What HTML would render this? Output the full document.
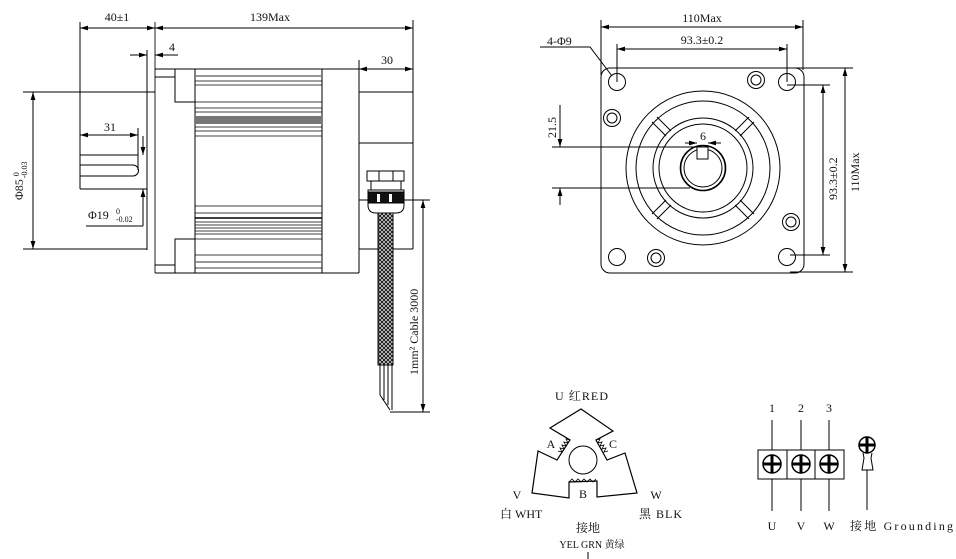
<!DOCTYPE html>
<html><head><meta charset="utf-8"><style>
html,body{margin:0;padding:0;background:#fff}
svg{display:block}
text{font-family:"Liberation Serif","Noto Serif CJK SC",serif;fill:#111}
</style></head><body>
<svg width="956" height="559" viewBox="0 0 956 559" xmlns="http://www.w3.org/2000/svg">
<defs>
<marker id="a" viewBox="0 0 10 6" refX="10" refY="3" markerWidth="8" markerHeight="5" orient="auto-start-reverse"><path d="M0,0 L10,3 L0,6 z" fill="#000"/></marker>
<pattern id="br" width="4" height="4" patternUnits="userSpaceOnUse"><rect width="4" height="4" fill="#fff"/><path d="M0,0 L4,4 M4,0 L0,4" stroke="#222" stroke-width="1.2"/></pattern>
</defs>
<g stroke="#000" stroke-width="1" fill="none">
<line x1="80" y1="22" x2="80" y2="189"/>
<line x1="155" y1="22" x2="155" y2="273" stroke="#555" stroke-width="1.3"/>
<line x1="413" y1="20" x2="413" y2="249"/>
<line x1="80" y1="28" x2="155" y2="28" marker-start="url(#a)" marker-end="url(#a)"/>
<line x1="155" y1="28" x2="413" y2="28" marker-start="url(#a)" marker-end="url(#a)"/>
<line x1="130" y1="55" x2="147" y2="55" marker-end="url(#a)"/>
<line x1="155" y1="55" x2="178" y2="55" marker-start="url(#a)"/>
<line x1="147" y1="50" x2="147" y2="250"/>
<line x1="359" y1="60" x2="359" y2="273"/>
<line x1="359" y1="69" x2="413" y2="69" marker-start="url(#a)" marker-end="url(#a)"/>
<line x1="23" y1="92" x2="155" y2="92"/>
<line x1="23" y1="249" x2="147" y2="249"/>
<line x1="33" y1="92" x2="33" y2="249" marker-start="url(#a)" marker-end="url(#a)"/>
<line x1="80" y1="135" x2="138" y2="135" marker-start="url(#a)" marker-end="url(#a)"/>
<line x1="138" y1="128" x2="138" y2="170"/>
<line x1="80" y1="155" x2="138" y2="155"/>
<path d="M80,165 H133 A5.5,5.5 0 0 1 133,176 H80"/>
<line x1="80" y1="189" x2="147" y2="189"/>
<line x1="143" y1="136" x2="143" y2="155" marker-end="url(#a)"/>
<line x1="143" y1="189" x2="143" y2="226" marker-start="url(#a)"/>
<line x1="86" y1="226" x2="143" y2="226"/>
<line x1="155" y1="69" x2="413" y2="69"/>
<line x1="155" y1="273" x2="359" y2="273"/>
<line x1="155" y1="77" x2="175" y2="77"/>
<line x1="155" y1="265" x2="175" y2="265"/>
<rect x="175" y="69" width="20" height="33"/>
<rect x="175" y="239" width="20" height="34"/>
<line x1="195" y1="69" x2="195" y2="273"/>
<line x1="322" y1="69" x2="322" y2="273"/>
<g stroke-width="0.8">
<line x1="195" y1="76" x2="322" y2="76" stroke="#777" stroke-width="1.5"/>
<line x1="195" y1="81" x2="322" y2="81"/><line x1="195" y1="85" x2="322" y2="85"/>
<line x1="195" y1="102" x2="322" y2="102"/><line x1="195" y1="108" x2="322" y2="108"/>
<line x1="195" y1="112" x2="322" y2="112"/>
<rect x="195" y="116" width="127" height="8" fill="#777" stroke="none"/>
<line x1="195" y1="127" x2="322" y2="127"/><line x1="195" y1="131" x2="322" y2="131"/><line x1="195" y1="136" x2="322" y2="136"/>
<line x1="195" y1="206" x2="322" y2="206"/><line x1="195" y1="213" x2="322" y2="213"/>
<line x1="195" y1="218" x2="322" y2="218" stroke-width="1.4"/><line x1="195" y1="222" x2="322" y2="222"/>
<line x1="195" y1="225" x2="322" y2="225"/><line x1="195" y1="228" x2="322" y2="228"/>
<line x1="195" y1="231" x2="322" y2="231"/><line x1="195" y1="234" x2="322" y2="234"/>
<line x1="195" y1="239" x2="322" y2="239"/><line x1="195" y1="255" x2="322" y2="255"/>
<line x1="195" y1="262" x2="322" y2="262" stroke="#777" stroke-width="1.5"/><line x1="195" y1="268" x2="322" y2="268"/>
</g>
<line x1="359" y1="92" x2="413" y2="92"/>
<line x1="359" y1="143" x2="413" y2="143"/>
<line x1="359" y1="249" x2="413" y2="249"/>
<rect x="367" y="171" width="37" height="10"/>
<line x1="379" y1="171" x2="379" y2="181"/><line x1="393" y1="171" x2="393" y2="181"/>
<rect x="371" y="181" width="30" height="9"/>
<path d="M368,190 H404 V205 Q404,213 396,213 H376 Q368,213 368,205 Z" fill="#fff"/>
<rect x="368" y="192" width="36" height="11" fill="#111"/>
<rect x="377" y="194" width="3" height="8" fill="#fff" stroke="none"/><rect x="389" y="194" width="3" height="8" fill="#fff" stroke="none"/>
<rect x="378" y="213" width="15" height="152" fill="url(#br)"/>
<path d="M380,365 V395 M384,365 V400 M388,365 V405 M392,365 V395 L392,410 M380,395 L390,410"/>
<line x1="359" y1="200" x2="368" y2="200"/>
<line x1="404" y1="200" x2="430" y2="200"/>
<line x1="390" y1="412" x2="430" y2="412"/>
<line x1="423" y1="200" x2="423" y2="412" marker-start="url(#a)" marker-end="url(#a)"/>
<line x1="601" y1="20" x2="601" y2="75"/>
<line x1="803" y1="20" x2="803" y2="70"/>
<line x1="601" y1="27" x2="803" y2="27" marker-start="url(#a)" marker-end="url(#a)"/>
<line x1="617" y1="44" x2="617" y2="82"/><line x1="787" y1="44" x2="787" y2="82"/>
<line x1="617" y1="49" x2="787" y2="49" marker-start="url(#a)" marker-end="url(#a)"/>
<path d="M540,47 H590 L612,76"/>
<rect x="601" y="68" width="203" height="205" rx="9"/>
<g>
<circle cx="617" cy="82" r="8.5"/><circle cx="787" cy="82" r="8.5"/>
<circle cx="617" cy="257" r="8.5"/><circle cx="787" cy="257" r="8.5"/>
</g>
<g>
<circle cx="756" cy="80" r="8.5"/><circle cx="756" cy="80" r="5"/>
<circle cx="612" cy="118" r="8.5"/><circle cx="612" cy="118" r="5"/>
<circle cx="791" cy="222" r="8.5"/><circle cx="791" cy="222" r="5"/>
<circle cx="656" cy="258" r="8.5"/><circle cx="656" cy="258" r="5"/>
</g>
<circle cx="703" cy="168" r="77"/>
<circle cx="703" cy="168" r="67"/>
<circle cx="703" cy="168" r="50"/>
<circle cx="703" cy="168" r="44"/>
<g transform="translate(703,168)">
<g id="sp"><line x1="37" y1="-32" x2="51" y2="-46"/><line x1="32" y1="-37" x2="46" y2="-51"/></g>
<use href="#sp" transform="rotate(90)"/><use href="#sp" transform="rotate(180)"/><use href="#sp" transform="rotate(270)"/>
</g>
<circle cx="703" cy="168" r="22.5" stroke-width="1.6"/>
<circle cx="703" cy="168" r="19"/>
<rect x="697" y="147" width="11" height="12" fill="#fff"/>
<line x1="685" y1="143" x2="697" y2="143" marker-end="url(#a)"/>
<line x1="708" y1="143" x2="721" y2="143" marker-start="url(#a)"/>
<line x1="552" y1="147" x2="700" y2="147"/>
<line x1="552" y1="188" x2="690" y2="188"/>
<line x1="560" y1="105" x2="560" y2="147" marker-end="url(#a)"/>
<line x1="560" y1="188" x2="560" y2="205" marker-start="url(#a)"/>
<line x1="787" y1="85" x2="830" y2="85"/><line x1="790" y1="255" x2="830" y2="255"/>
<line x1="823" y1="85" x2="823" y2="255" marker-start="url(#a)" marker-end="url(#a)"/>
<line x1="775" y1="68" x2="853" y2="68"/><line x1="790" y1="272" x2="853" y2="272"/>
<line x1="845" y1="68" x2="845" y2="272" marker-start="url(#a)" marker-end="url(#a)"/>
<path d="M581,409 L613,431 L596,440 L607,460 L625,453 L637,493 L597,497 L597,481 L569,482 L569,498 L532,493 L538,451 L557,460 L570,440 L550,428 Z" stroke-width="1.2"/>
<path d="M596,440 l4,-1 l-2,4 l4,-1 l-2,4 l4,-1 l-2,4 l4,-1 l-2,4 l4,-1 M570,440 l-4,-1 l2,4 l-4,-1 l2,4 l-4,-1 l2,4 l-4,-1 l2,4 l-4,-1 M569,482 l3,-3 l3,3 l3,-3 l3,3 l3,-3 l3,3 l3,-3 l3,3 l3,-3" stroke-width="0.8"/>
<circle cx="583" cy="460" r="14"/>
<line x1="588" y1="552" x2="588" y2="559"/>
<rect x="758" y="450" width="86" height="29"/>
<line x1="787" y1="450" x2="787" y2="479"/><line x1="815" y1="450" x2="815" y2="479"/>
<g id="sc"><circle cx="772" cy="464" r="9" stroke-width="1.5"/><line x1="763" y1="464" x2="781" y2="464" stroke-width="3"/><line x1="772" y1="455" x2="772" y2="473" stroke-width="3"/></g>
<use href="#sc" x="29"/><use href="#sc" x="57"/>
<line x1="772" y1="420" x2="772" y2="450"/><line x1="801" y1="420" x2="801" y2="450"/><line x1="829" y1="420" x2="829" y2="450"/>
<line x1="772" y1="479" x2="772" y2="511"/><line x1="801" y1="479" x2="801" y2="511"/><line x1="829" y1="479" x2="829" y2="511"/>
<circle cx="867" cy="445" r="8" stroke-width="1.5"/><line x1="859" y1="445" x2="875" y2="445" stroke-width="3"/><line x1="867" y1="437" x2="867" y2="453" stroke-width="3"/>
<path d="M863,453 L864,458 L862,470 H873 L871,458 L872,453"/>
<line x1="867" y1="470" x2="867" y2="510"/>
</g>
<g font-size="12">
<text x="117" y="21" text-anchor="middle">40±1</text>
<text x="270" y="21" text-anchor="middle">139Max</text>
<text x="172" y="51" text-anchor="middle">4</text>
<text x="387" y="64" text-anchor="middle">30</text>
<text x="110" y="131" text-anchor="middle">31</text>
<text x="88" y="219">Φ19</text><text x="116" y="214" font-size="8">0</text><text x="116" y="222" font-size="8">-0.02</text>
<text transform="translate(23,200) rotate(-90)">Φ85 <tspan font-size="8" dy="-4">0</tspan><tspan font-size="8" dy="8" dx="-6">-0.03</tspan></text>
<text transform="translate(418,375) rotate(-90)">1mm² Cable 3000</text>
<text x="702" y="22" text-anchor="middle">110Max</text>
<text x="702" y="44" text-anchor="middle">93.3±0.2</text>
<text x="547" y="45">4-Φ9</text>
<text x="703" y="140" text-anchor="middle">6</text>
<text transform="translate(556,138) rotate(-90)">21.5</text>
<text transform="translate(837,200) rotate(-90)">93.3±0.2</text>
<text transform="translate(859,192) rotate(-90)">110Max</text>
<text x="555" y="400" textLength="53">U 红RED</text>
<text x="551" y="448" text-anchor="middle">A</text>
<text x="613" y="448" text-anchor="middle">C</text>
<text x="583" y="498" text-anchor="middle">B</text>
<text x="517" y="499" text-anchor="middle">V</text>
<text x="656" y="499" text-anchor="middle">W</text>
<text x="500" y="518">白 WHT</text>
<text x="639" y="518" textLength="43">黑 BLK</text>
<text x="588" y="532" text-anchor="middle">接地</text>
<text x="592" y="548" text-anchor="middle" font-size="10">YEL GRN 黄绿</text>
<text x="772" y="412" text-anchor="middle">1</text>
<text x="801" y="412" text-anchor="middle">2</text>
<text x="829" y="412" text-anchor="middle">3</text>
<text x="772" y="530" text-anchor="middle">U</text>
<text x="801" y="530" text-anchor="middle">V</text>
<text x="829" y="530" text-anchor="middle">W</text>
<text x="850" y="530" textLength="103">接地 Grounding</text>
</g>
</svg>
</body></html>
